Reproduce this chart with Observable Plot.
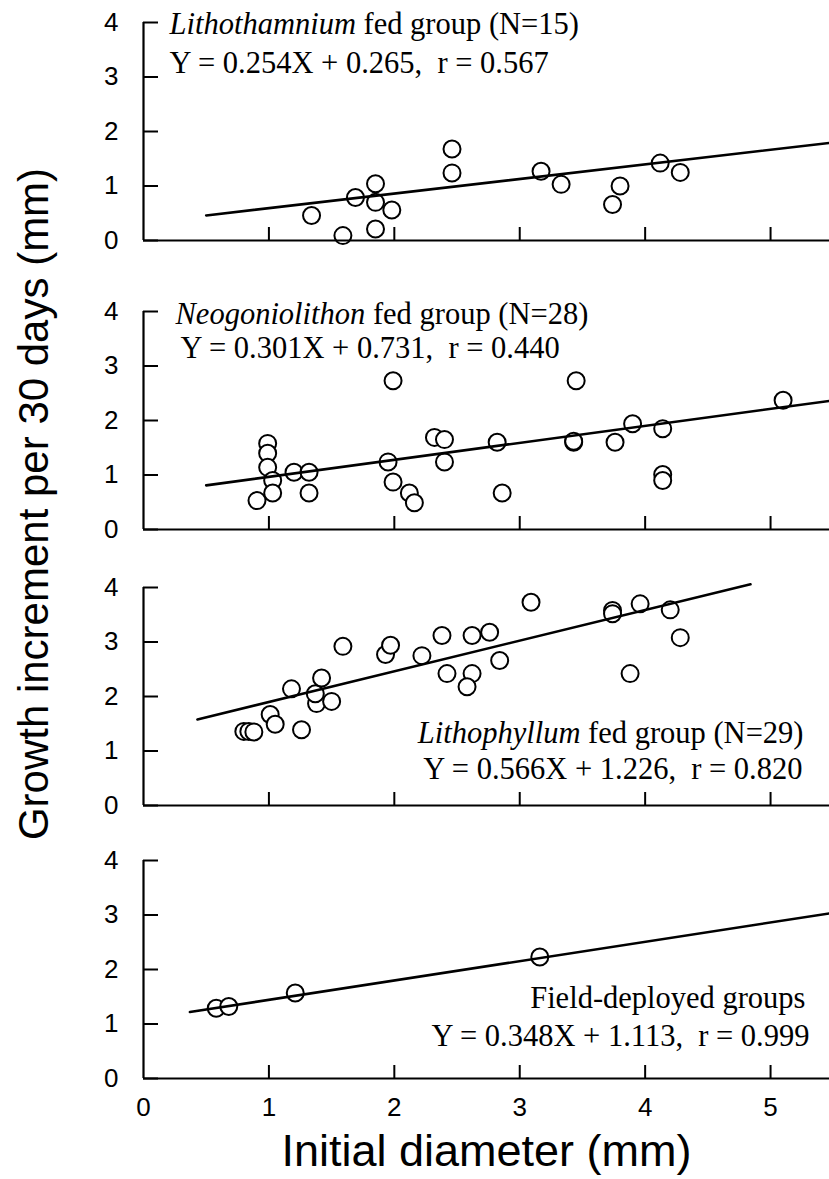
<!DOCTYPE html>
<html><head><meta charset="utf-8">
<script src="https://cdn.jsdelivr.net/npm/d3@7"></script>
<script src="https://cdn.jsdelivr.net/npm/@observablehq/plot@0.6"></script>
<style>
html,body{margin:0;padding:0;background:#fff;}
#chart{position:relative;width:829px;height:1179px;overflow:hidden;background:#fff;}
#chart > div{position:absolute;left:0;}
svg text{white-space:pre;}
</style></head><body><div id="chart"></div>
<script>
// ---- shared axes ----
const xTicks = [0, 1, 2, 3, 4, 5];
const yTicks = [0, 1, 2, 3, 4];
const xDomain = [0, 5.47];
const yDomain = [0, 4];
const xLabel = "Initial diameter (mm)";
const yLabel = "Growth increment per 30 days (mm)";

// ---- panel 1: Lithothamnium ----
const p1X = [1.34, 1.59, 1.69, 1.85, 1.85, 1.85, 1.98, 2.46, 2.46, 3.17, 3.33, 3.80, 3.74, 4.12, 4.28];
const p1Y = [0.46, 0.09, 0.79, 1.04, 0.70, 0.21, 0.56, 1.68, 1.24, 1.27, 1.03, 1.00, 0.66, 1.42, 1.25];
const fit1X = [0.50, 5.47];
const fit1Y = [0.46, 1.79];
const p1Genus = "Lithothamnium";
const p1Rest = " fed group (N=15)";
const p1Eq = "Y = 0.254X + 0.265,  r = 0.567";

// ---- panel 2: Neogoniolithon ----
const p2X = [1.99, 0.99, 0.99, 0.99, 1.03, 1.03, 0.905, 1.20, 1.32, 1.32, 1.95, 1.99, 2.12, 2.16, 2.32, 2.40, 2.40, 3.45, 2.82, 2.86, 3.43, 3.43, 3.76, 3.90, 4.14, 4.14, 4.14, 5.10];
const p2Y = [2.73, 1.58, 1.40, 1.14, 0.90, 0.67, 0.53, 1.05, 1.05, 0.67, 1.24, 0.87, 0.67, 0.49, 1.69, 1.65, 1.24, 2.73, 1.60, 0.67, 1.60, 1.62, 1.60, 1.94, 1.85, 1.01, 0.90, 2.37];
const fit2X = [0.50, 5.47];
const fit2Y = [0.81, 2.36];
const p2Genus = "Neogoniolithon";
const p2Rest = " fed group (N=28)";
const p2Eq = "Y = 0.301X + 0.731,  r = 0.440";

// ---- panel 3: Lithophyllum ----
const p3X = [0.80, 0.84, 0.88, 1.01, 1.05, 1.26, 1.18, 1.38, 1.37, 1.42, 1.50, 1.59, 1.93, 1.97, 2.22, 2.38, 2.42, 2.62, 2.62, 2.58, 2.76, 2.84, 3.09, 3.74, 3.74, 3.96, 4.20, 4.28, 3.88];
const p3Y = [1.36, 1.36, 1.35, 1.67, 1.49, 1.39, 2.14, 1.87, 2.05, 2.34, 1.91, 2.92, 2.77, 2.94, 2.75, 3.12, 2.42, 3.12, 2.42, 2.18, 3.18, 2.66, 3.73, 3.58, 3.52, 3.70, 3.59, 3.08, 2.42];
const fit3X = [0.43, 4.84];
const fit3Y = [1.58, 4.06];
const p3Genus = "Lithophyllum";
const p3Rest = " fed group (N=29)";
const p3Eq = "Y = 0.566X + 1.226,  r = 0.820";

// ---- panel 4: field-deployed ----
const p4X = [0.58, 0.68, 1.21, 3.16];
const p4Y = [1.29, 1.32, 1.57, 2.23];
const fit4X = [0.37, 5.47];
const fit4Y = [1.22, 3.03];
const p4Genus = "";
const p4Rest = "Field-deployed groups";
const p4Eq = "Y = 0.348X + 1.113,  r = 0.999";

// ---- layout ----
const panels = [
  {px: p1X, py: p1Y, fx: fit1X, fy: fit1Y, genus: p1Genus, rest: p1Rest, eq: p1Eq, top: 2, anchor: "top-left", d1: [26, 11], d2: [26, 50]},
  {px: p2X, py: p2Y, fx: fit2X, fy: fit2Y, genus: p2Genus, rest: p2Rest, eq: p2Eq, top: 291, anchor: "top-left", d1: [32, 12], d2: [37, 46]},
  {px: p3X, py: p3Y, fx: fit3X, fy: fit3Y, genus: p3Genus, rest: p3Rest, eq: p3Eq, top: 567, anchor: "bottom-right", d1: [-26, -63], d2: [-27, -27]},
  {px: p4X, py: p4Y, fx: fit4X, fy: fit4Y, genus: p4Genus, rest: p4Rest, eq: p4Eq, top: 840, anchor: "bottom-right", d1: [-24, -71], d2: [-20, -33], last: true}
];

const chart = document.getElementById("chart");
const serif = "'Liberation Serif', 'Times New Roman', serif";
const sans = "'Liberation Sans', Arial, Helvetica, sans-serif";
const frameH = 218, mTop = 20;

panels.forEach((p, i) => {
  const pts = p.px.map((x, j) => ({x, y: p.py[j]}));
  const fit = p.fx.map((x, j) => ({x, y: p.fy[j]}));
  const title = p.genus + p.rest;
  const mBottom = p.last ? 101 : 10;
  const marks = [
    Plot.dot(pts, {x: "x", y: "y", r: 8.5, fill: "white", stroke: "black", strokeWidth: 2}),
    Plot.line(fit, {x: "x", y: "y", stroke: "black", strokeWidth: 2.6}),
    Plot.ruleY([0], {stroke: "black", strokeWidth: 2.2}),
    Plot.ruleX([0], {stroke: "black", strokeWidth: 2.2}),
    Plot.axisY({ticks: yTicks, tickSize: 15, dx: 15, text: null, label: null, strokeWidth: 2}),
    Plot.axisY({ticks: yTicks, tickSize: 0, tickPadding: 25, fontSize: 26, label: null, tickFormat: d => String(d)}),
    Plot.axisX({ticks: xTicks.filter(d => d > 0), tickSize: 13, dy: -13, text: null, label: null, strokeWidth: 2}),
    Plot.text([title], {text: d => d, frameAnchor: p.anchor, lineAnchor: "bottom", dx: p.d1[0], dy: p.d1[1], fontSize: 30.5, fontFamily: serif, fill: "black"}),
    Plot.text([p.eq], {text: d => d, frameAnchor: p.anchor, lineAnchor: "bottom", dx: p.d2[0], dy: p.d2[1], fontSize: 30.5, fontFamily: serif, fill: "black"})
  ];
  if (p.last) {
    marks.push(Plot.axisX({ticks: xTicks, tickSize: 0, tickPadding: 19, fontSize: 26, label: null, tickFormat: d => String(d)}));
    marks.push(Plot.text([xLabel], {text: d => d, frameAnchor: "bottom", lineAnchor: "bottom", dy: 87, fontSize: 45, fontFamily: sans, fill: "black"}));
  }
  const svg = Plot.plot({
    width: 829,
    height: mTop + frameH + mBottom,
    marginTop: mTop, marginBottom: mBottom, marginLeft: 143, marginRight: 0,
    x: {domain: xDomain},
    y: {domain: yDomain},
    style: {fontFamily: sans, color: "black", background: "transparent", overflow: "visible"},
    marks
  });
  if (p.genus) {
    d3.select(svg).selectAll("text").filter(function () { return this.textContent === title; }).each(function () {
      const t = d3.select(this);
      t.text(null);
      t.append("tspan").attr("font-style", "italic").text(p.genus);
      t.append("tspan").text(p.rest);
    });
  }
  const div = document.createElement("div");
  div.style.top = p.top + "px";
  div.appendChild(svg);
  chart.appendChild(div);
});

// shared y-axis label
const ov = d3.select(chart).append("svg")
  .attr("width", 829).attr("height", 1179)
  .style("position", "absolute").style("left", 0).style("top", 0).style("pointer-events", "none");
ov.append("text")
  .attr("transform", "translate(48,504) rotate(-90)")
  .attr("text-anchor", "middle")
  .attr("font-family", sans)
  .attr("font-size", 42)
  .attr("fill", "black")
  .text(yLabel);
</script></body></html>
